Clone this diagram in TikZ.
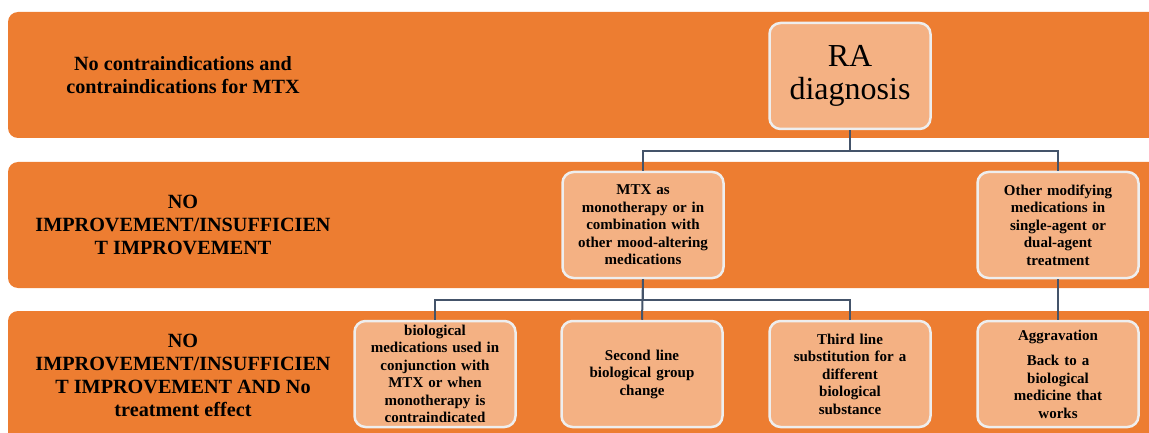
\documentclass[tikz,border=0pt]{standalone}
\usepackage{fontspec}
\setmainfont{Liberation Serif}
\usepackage{xcolor}
\definecolor{band}{HTML}{ED7D31}
\definecolor{boxfill}{HTML}{F4B183}
\definecolor{boxline}{HTML}{EEEEEE}
\definecolor{link}{HTML}{44546A}

\begin{document}
\begin{tikzpicture}[x=1pt,y=-1pt,
		band/.style={fill=band,rounded corners=10pt},
		stage/.style={rectangle,rounded corners=11pt,fill=boxfill,draw=boxline,line width=2.5pt,minimum width=161pt,minimum height=106pt,text width=147pt,inner sep=2pt,align=center,font=\bfseries\fontsize{15}{17.5}\selectfont},
		rowlabel/.style={align=center,font=\bfseries\fontsize{20.2}{23}\selectfont},
		link/.style={draw=link,line width=2pt}]
				\clip (0,0) rectangle (1149,433);
				\fill[band] (8,12) rectangle (1170,138);
				\fill[band] (8,162) rectangle (1170,288);
				\fill[band] (8,311) rectangle (1170,460);
				
				\node(r1) at (183,75)[rowlabel]{No contraindications and\\contraindications for MTX};
				\node(r2) at (183,225)[rowlabel]{NO\\IMPROVEMENT/INSUFFICIEN\\T IMPROVEMENT};
				\node(r3) at (183,375)[rowlabel]{NO\\IMPROVEMENT/INSUFFICIEN\\T IMPROVEMENT AND No\\treatment effect};
				
				\node(ra) at (850,76)[stage,font=\fontsize{32}{33}\selectfont]{RA\\diagnosis};
				\node(mtx) at (643,225)[stage]{MTX as\\monotherapy or in\\combination with\\other mood-altering\\medications};
				\node(other) at (1058,225)[stage]{Other modifying\\medications in\\single-agent or\\dual-agent\\treatment};
				\node(bio) at (435,374)[stage]{biological\\medications used in\\conjunction with\\MTX or when\\monotherapy is\\contraindicated};
				\node(second) at (642,374)[stage]{Second line\\biological group\\change};
				\node(third) at (850,374)[stage]{Third line\\substitution for a\\different\\biological\\substance};
				\node(aggr) at (1058,374)[stage]{Aggravation\\[8pt]Back to a\\biological\\medicine that\\works};
				
				\draw[link] (ra.south) -- ++(0,21) -| (mtx.north);
				\draw[link] (ra.south) -- ++(0,21) -| (other.north);
				\draw[link] (mtx.south) -- ++(0,21) -| (bio.north);
				\draw[link] (mtx.south) -- ++(0,21) -| (third.north);
				\draw[link] (mtx.south) -- (second.north);
				\draw[link] (other.south) -- (aggr.north);
			\end{tikzpicture}
\end{document}
